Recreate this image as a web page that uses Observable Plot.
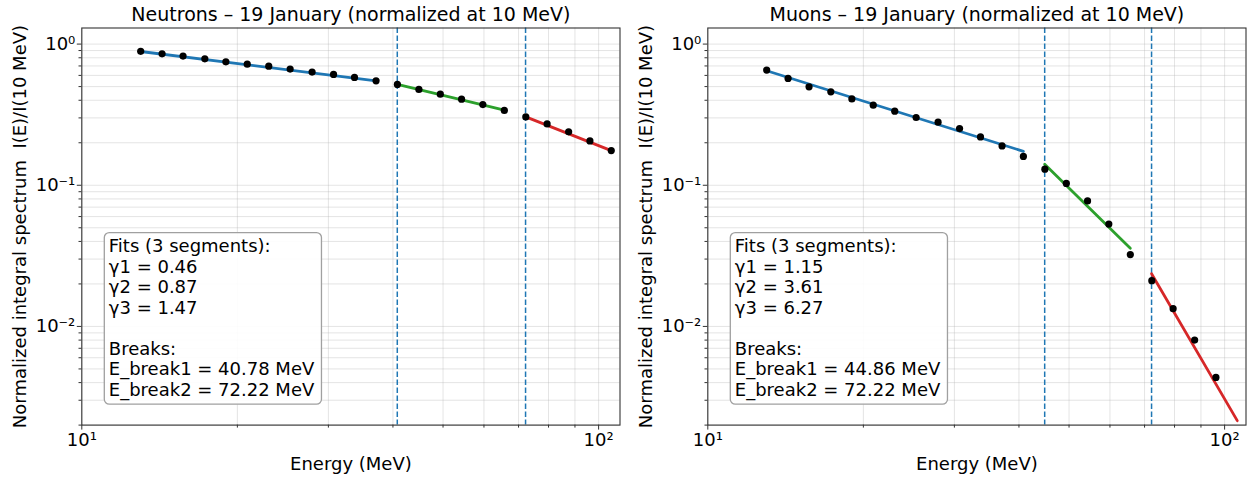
<!DOCTYPE html>
<html>
<head>
<meta charset="utf-8">
<script src="https://cdn.jsdelivr.net/npm/d3@7"></script>
<script src="https://cdn.jsdelivr.net/npm/@observablehq/plot@0.6"></script>
<style>
  html, body { margin: 0; padding: 0; background: white; }
  #wrap { display: flex; width: 1252px; height: 481px; }
</style>
</head>
<body>
<div id="wrap"></div>
<script>
// ---- Data ----
const energies = [13.0, 14.3, 15.7, 17.3, 19.0, 20.9, 23.0, 25.3, 27.9, 30.7, 33.7, 37.1,
                  40.8, 44.9, 49.4, 54.3, 59.7, 65.7, 72.3, 79.5, 87.5, 96.2, 105.8];

const neutronI = [0.888, 0.853, 0.822, 0.786, 0.749, 0.721, 0.698, 0.665, 0.633, 0.610, 0.581, 0.549,
                  0.518, 0.477, 0.442, 0.407, 0.373, 0.339, 0.305, 0.272, 0.239, 0.206, 0.176];
const muonE = energies.slice(0, 22);
const muonI = [0.654, 0.571, 0.498, 0.459, 0.409, 0.369, 0.335, 0.302, 0.280, 0.252, 0.220, 0.190,
               0.160, 0.130, 0.103, 0.0774, 0.0531, 0.0323, 0.0211, 0.01335, 0.0080, 0.00435];

// fitted segments (end points of each straight log-log segment)
const segKeys = ["s1", "s1", "s2", "s2", "s3", "s3"];
const neutronFitE = [13.0, 37.1, 40.8, 65.7, 72.3, 105.8];
const neutronFitI = [0.886, 0.549, 0.518, 0.340, 0.305, 0.176];
const muonFitE = [13.0, 40.8, 44.86, 65.7, 72.22, 105.8];
const muonFitI = [0.647, 0.174, 0.141, 0.0358, 0.0236, 0.00215];

const neutronBreaks = [40.78, 72.22];
const muonBreaks = [44.86, 72.22];

const neutronGammas = ["0.46", "0.87", "1.47"];
const muonGammas = ["1.15", "3.61", "6.27"];

const segColors = ["#1f77b4", "#2ca02c", "#d62728"];

const xMajor = [10, 100];
const xMinor = [20, 30, 40, 50, 60, 70, 80, 90];
const yMajor = [1, 0.1, 0.01];
const yMinor = [0.002, 0.003, 0.004, 0.005, 0.006, 0.007, 0.008, 0.009,
                0.02, 0.03, 0.04, 0.05, 0.06, 0.07, 0.08, 0.09,
                0.2, 0.3, 0.4, 0.5, 0.6, 0.7, 0.8, 0.9];
const xTickLabels = {10: "10¹", 100: "10²"};
const yTickLabels = {1: "10⁰", 0.1: "10⁻¹", 0.01: "10⁻²"};

const xLabel = "Energy (MeV)";
const yLabel = "Normalized integral spectrum  I(E)/I(10 MeV)";

function boxText(g, breaks) {
  return `Fits (3 segments):\nγ1 = ${g[0]}\nγ2 = ${g[1]}\nγ3 = ${g[2]}\n\nBreaks:\nE_break1 = ${breaks[0].toFixed(2)} MeV\nE_break2 = ${breaks[1].toFixed(2)} MeV`;
}

function panel({title, E, I, fitE, fitI, breaks, gammas}) {
  const pts = E.map((e, i) => ({E: e, I: I[i]}));
  const fit = fitE.map((e, i) => ({E: e, I: fitI[i], seg: segKeys[i]}));
  const gridStyle = {stroke: "#b0b0b0", strokeOpacity: 0.34, strokeWidth: 1};
  return Plot.plot({
    width: 626, height: 481,
    marginLeft: 81.3, marginRight: 6.5, marginTop: 27.5, marginBottom: 56.4,
    style: {fontFamily: "'DejaVu Sans', sans-serif", fontSize: "18px", background: "white", color: "black", overflow: "visible"},
    x: {type: "log", domain: [10, 110], label: null},
    y: {type: "log", domain: [0.002, 1.3], label: null},
    color: {domain: ["s1", "s2", "s3"], range: segColors},
    marks: [
      Plot.gridX(xMinor, gridStyle),
      Plot.gridX(xMajor, gridStyle),
      Plot.gridY(yMinor, gridStyle),
      Plot.gridY(yMajor, gridStyle),
      Plot.ruleX(breaks, {stroke: "#1f77b4", strokeWidth: 1.5, strokeDasharray: "5.5,2.5"}),
      Plot.line(fit, {x: "E", y: "I", z: "seg", stroke: "seg", strokeWidth: 2.8}),
      Plot.dot(pts, {x: "E", y: "I", r: 3.6, fill: "black", stroke: "none"}),
      Plot.frame({stroke: "#333", strokeWidth: 1.1}),
      Plot.axisX(xMajor, {tickSize: 5, tickPadding: 3.4, tickFormat: d => xTickLabels[d], label: null, stroke: "#333"}),
      Plot.axisX(xMinor, {tickSize: 3, tickFormat: () => "", label: null, stroke: "#333"}),
      Plot.axisY(yMajor, {tickSize: 4.5, tickPadding: 2, tickFormat: d => yTickLabels[d], label: null, stroke: "#333"}),
      Plot.axisY(yMinor, {tickSize: 2.8, tickFormat: () => "", label: null, stroke: "#333"}),
      Plot.text([title], {text: d => d, frameAnchor: "top", textAnchor: "middle", lineAnchor: "bottom", dy: -7, fontSize: 19}),
      Plot.text([xLabel], {text: d => d, frameAnchor: "bottom", textAnchor: "middle", lineAnchor: "bottom", dy: 44.4}),
      Plot.text([yLabel], {text: d => d, frameAnchor: "left", textAnchor: "middle", rotate: -90, lineAnchor: "bottom", dx: -56.3}),
      Plot.text([boxText(gammas, breaks)], {text: d => d, frameAnchor: "bottom-left", textAnchor: "start",
        lineAnchor: "bottom", lineHeight: 1.137, dx: 27, dy: -29.6})
    ]
  });
}

const wrap = document.getElementById("wrap");
wrap.appendChild(panel({title: "Neutrons – 19 January (normalized at 10 MeV)", E: energies, I: neutronI,
  fitE: neutronFitE, fitI: neutronFitI, breaks: neutronBreaks, gammas: neutronGammas}));
wrap.appendChild(panel({title: "Muons – 19 January (normalized at 10 MeV)", E: muonE, I: muonI,
  fitE: muonFitE, fitI: muonFitI, breaks: muonBreaks, gammas: muonGammas}));

// Rounded annotation box behind the fit text
d3.selectAll("svg text").filter(function() {
  return this.textContent.startsWith("Fits (3 segments)");
}).each(function() {
  const b = this.getBBox();
  d3.select(this.parentNode).insert("rect", () => this)
    .attr("transform", this.getAttribute("transform"))
    .attr("x", b.x - 4.5).attr("y", b.y - 2.7)
    .attr("width", b.width + 11).attr("height", b.height + 6.4)
    .attr("rx", 5).attr("ry", 5)
    .attr("fill", "white").attr("fill-opacity", 0.9)
    .attr("stroke", "#a0a0a0").attr("stroke-width", 1.3);
});
</script>
</body>
</html>
